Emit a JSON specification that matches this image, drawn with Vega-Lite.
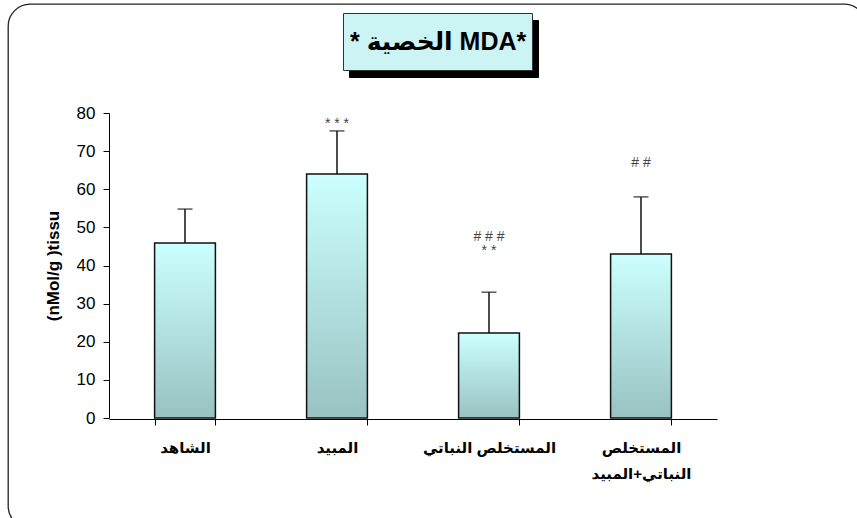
{
  "$schema": "https://vega.github.io/schema/vega-lite/v6.json",
  "autosize": {"type": "none"},
  "width": 858,
  "height": 524,
  "padding": {"left": 8, "top": 4, "right": -9, "bottom": -10},
  "background": "white",
  "config": {
    "font": "Liberation Sans, DejaVu Sans",
    "view": {"stroke": "#222", "strokeWidth": 1.3, "cornerRadius": 22, "fill": "white"}
  },
  "datasets": {
    "bars": [
      {"group": "الشاهد", "value": 45.9, "upper": 54.8},
      {"group": "المبيد", "value": 64.0, "upper": 75.3},
      {"group": "المستخلص النباتي", "value": 22.3, "upper": 33.0},
      {"group": "المستخلص\nالنباتي+المبيد", "value": 43.0, "upper": 58.0}
    ],
    "notes": [
      {"group": "المبيد", "label": "* * *", "pos": 77.2},
      {"group": "المستخلص النباتي", "label": "# # #", "pos": 47.6},
      {"group": "المستخلص النباتي", "label": "* *", "pos": 43.7},
      {"group": "المستخلص\nالنباتي+المبيد", "label": "# #", "pos": 66.9}
    ],
    "heading": [
      {"title": "* الخصية MDA*", "shadow": "* الخصية MDA*"}
    ]
  },
  "layer": [
    {
      "data": {"name": "bars"},
      "mark": {
        "type": "bar",
        "stroke": "#111",
        "strokeWidth": 1.5,
        "color": {
          "gradient": "linear",
          "x1": 0, "y1": 0, "x2": 0, "y2": 1,
          "stops": [
            {"offset": 0, "color": "#CCFFFF"},
            {"offset": 1, "color": "#99C2C2"}
          ]
        }
      },
      "encoding": {
        "x": {
          "field": "group",
          "type": "nominal",
          "sort": null,
          "scale": {"range": [101, 709], "paddingInner": 0.6, "paddingOuter": 0.3},
          "axis": {
            "title": null,
            "labelAngle": 0,
            "domainColor": "#000",
            "tickColor": "#000",
            "tickSize": 6,
            "tickBand": "extent",
            "labelFontSize": 15,
            "labelFontWeight": "bold",
            "labelColor": "#000",
            "labelPadding": 15,
            "labelBaseline": "top",
            "labelLineHeight": 26,
            "labelLimit": 0,
            "labelExpr": "split(datum.label, '\\n')",
            "offset": -109
          }
        },
        "y": {
          "field": "value",
          "type": "quantitative",
          "scale": {"domain": [0, 80], "range": [414, 109], "nice": false},
          "axis": {
            "title": "(nMol/g )tissu",
            "values": [0, 10, 20, 30, 40, 50, 60, 70, 80],
            "grid": false,
            "domainColor": "#000",
            "tickColor": "#000",
            "tickSize": 6,
            "labelFontSize": 17,
            "labelColor": "#000",
            "labelPadding": 8,
            "titleFontSize": 17,
            "titleFontWeight": "bold",
            "titleColor": "#000",
            "titlePadding": 14,
            "offset": -101
          }
        }
      }
    },
    {
      "data": {"name": "bars"},
      "mark": {"type": "rule", "color": "#111", "strokeWidth": 1.5},
      "encoding": {
        "x": {"field": "group", "type": "nominal", "sort": null},
        "y": {"field": "value", "type": "quantitative"},
        "y2": {"field": "upper"}
      }
    },
    {
      "data": {"name": "bars"},
      "mark": {"type": "tick", "color": "#111", "thickness": 1.5, "size": 15},
      "encoding": {
        "x": {"field": "group", "type": "nominal", "sort": null},
        "y": {"field": "upper", "type": "quantitative"}
      }
    },
    {
      "data": {"name": "notes"},
      "mark": {"type": "text", "fontSize": 14, "color": "#444", "baseline": "middle", "align": "center"},
      "encoding": {
        "x": {"field": "group", "type": "nominal", "sort": null},
        "y": {"field": "pos", "type": "quantitative"},
        "text": {"field": "label"}
      }
    },
    {
      "data": {"name": "heading"},
      "mark": {"type": "point", "opacity": 0},
      "encoding": {
        "color": {
          "field": "title",
          "type": "nominal",
          "scale": {"range": ["#000"]},
          "legend": {
            "title": null,
            "orient": "none",
            "legendX": 335,
            "legendY": 9,
            "fillColor": "#CCF4F4",
            "strokeColor": "#333",
            "padding": 5,
            "symbolSize": 2116,
            "symbolOpacity": 0,
            "labelOffset": -46,
            "labelFontSize": 25,
            "labelFontWeight": "bold",
            "labelColor": "#000",
            "labelLimit": 0,
            "zindex": 2
          }
        },
        "shape": {
          "field": "shadow",
          "type": "nominal",
          "legend": {
            "title": null,
            "orient": "none",
            "legendX": 341,
            "legendY": 16,
            "fillColor": "#000",
            "strokeColor": "#000",
            "padding": 5,
            "symbolSize": 2116,
            "symbolOpacity": 0,
            "labelOffset": -46,
            "labelFontSize": 25,
            "labelFontWeight": "bold",
            "labelColor": "#000",
            "labelOpacity": 0,
            "labelLimit": 0,
            "zindex": 1
          }
        }
      }
    }
  ]
}
